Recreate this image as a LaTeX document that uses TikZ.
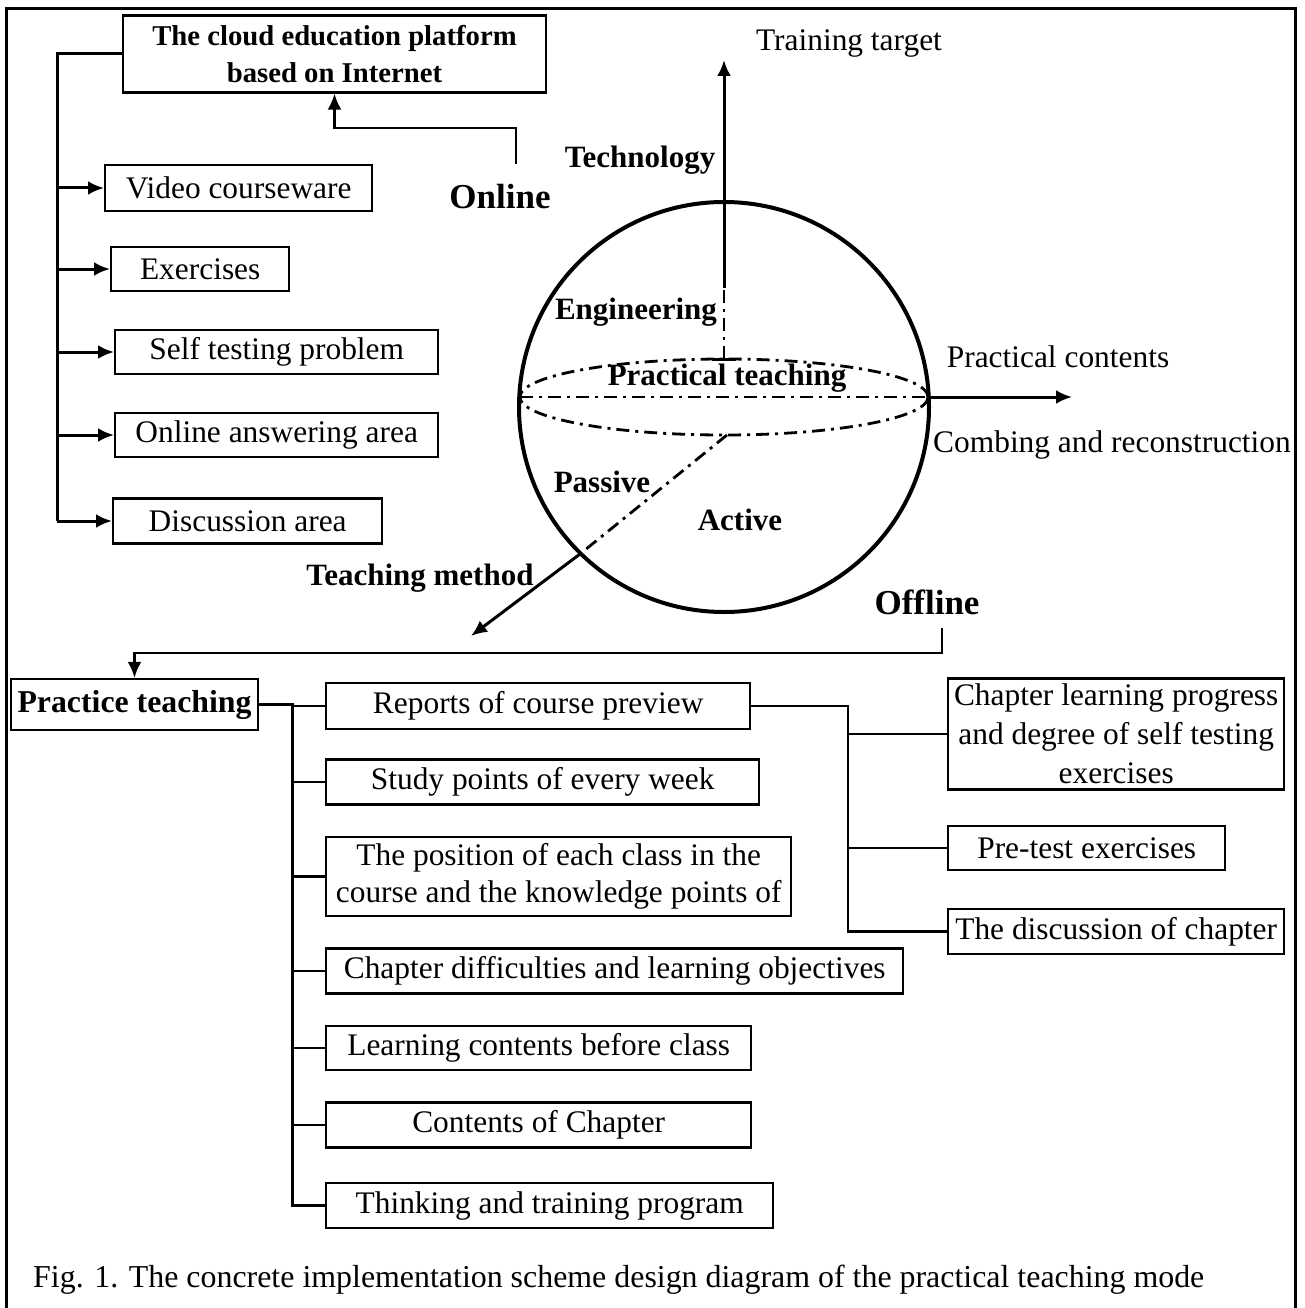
\documentclass[tikz,border=0pt]{standalone}
\usepackage{fontspec}
\setmainfont{Liberation Serif}
\usetikzlibrary{arrows.meta}

\newcommand\txtsz{\fontsize{31.4}{37}\selectfont}
\newcommand\lblsz{\fontsize{31}{37}\selectfont\bfseries}
\newcommand\bigsz{\fontsize{35}{40}\selectfont\bfseries}

\begin{document}
\begin{tikzpicture}[x=1pt, y=-1pt,
  >={Latex[length=16pt,width=14pt]},
  box/.style={draw, line width=2.4pt, inner sep=1pt, font=\txtsz, align=center},
  conn/.style={line width=3pt},
  thin/.style={line width=2.2pt},
  dashdot/.style={line width=2.8pt, dash pattern=on 13pt off 6pt on 3pt off 6pt}]
  \useasboundingbox (0,0) rectangle (1304,1308);
  % outer frame, open at the bottom
  \draw[line width=3pt] (6,1320) -- (6,9) -- (1295,9) -- (1295,1320);
  % online part
  \node[box, font=\fontsize{28.7}{37}\selectfont\bfseries, minimum width=423pt, minimum height=77pt]
    (cloud) at (334.5,54) {The cloud education platform\\based on Internet};
  \node[box, anchor=west, minimum width=267pt, minimum height=46pt] (video) at (104,188) {Video courseware};
  \node[box, anchor=west, minimum width=178pt, minimum height=44pt] (exer) at (110,269) {Exercises};
  \node[box, anchor=west, minimum width=323pt, minimum height=44pt] (selftest) at (114,352) {Self testing problem};
  \node[box, anchor=west, minimum width=323pt, minimum height=44pt] (answer) at (114,435) {Online answering area};
  \node[box, anchor=west, minimum width=269pt, minimum height=45pt] (discuss) at (112,521) {Discussion area};
  \coordinate (ltrunk) at (57,0);
  \draw[conn] (cloud.west) -| (ltrunk |- discuss.west);
  \foreach \n in {video,exer,selftest,answer,discuss}
    \draw[conn,->] (ltrunk |- \n.west) -- (\n.west);
  \node[font=\bigsz] (online) at (500,197) {Online};
  \coordinate (onlinetop) at (516,164);
  \draw[thin,->] (onlinetop) -- ++(0,-36) -| (cloud.south);
  % sphere with its three axes
  \draw[line width=4pt] (724,407) circle[radius=205];
  \draw[dashdot] (724,397) ellipse[x radius=204, y radius=38];
  \coordinate (eqL) at (520,397);
  \coordinate (eqR) at (928,397);
  \coordinate (eqtip) at (1072,397);
  \draw[dashdot] (eqL) -- (eqR);
  \draw[conn,->] (eqR) -- (eqtip);
  \coordinate (poleb) at (724,359);
  \coordinate (polem) at (724,288);
  \coordinate (polet) at (724,60);
  \draw[conn] ([xshift=-12pt]poleb) -- ([xshift=12pt]poleb);
  \draw[dashdot] (poleb) -- (polem);
  \draw[conn,->] (polem) -- (polet);
  \coordinate (diagA) at (727,435);
  \coordinate (diagB) at (580,554);
  \coordinate (diagC) at (471,636);
  \draw[dashdot] (diagA) -- (diagB);
  \draw[conn,->] (diagB) -- (diagC);
  % axis and region labels
  \node[font=\txtsz] (target) at (849,43) {Training target};
  \node[font=\lblsz] (techno) at (640,160) {Technology};
  \node[font=\lblsz] (engin) at (636,312) {Engineering};
  \node[font=\lblsz] (practical) at (727,378) {Practical teaching};
  \node[font=\txtsz] (pcontents) at (1058,357) {Practical contents};
  \node[font=\txtsz] (combing) at (1112,445) {Combing and reconstruction};
  \node[font=\lblsz] (passive) at (602,482) {Passive};
  \node[font=\lblsz] (active) at (740,520) {Active};
  \node[font=\lblsz] (method) at (420,578) {Teaching method};
  \node[font=\bigsz] (offline) at (927,602) {Offline};
  % offline part
  \node[box, font=\fontsize{31.8}{37}\selectfont\bfseries, minimum width=247pt, minimum height=51pt]
    (practice) at (134.5,704.5) {Practice teaching};
  \coordinate (offbend) at (942,628);
  \draw[thin,->] (offbend) -- ++(0,25) -| (practice.north);
  \node[box, anchor=west, minimum width=424pt, minimum height=46pt] (reports) at (325,706) {Reports of course preview};
  \node[box, anchor=west, minimum width=433pt, minimum height=45pt] (study) at (325,782) {Study points of every week};
  \node[box, anchor=west, minimum width=465pt, minimum height=79pt] (position) at (325,876.5)
    {The position of each class in the\\course and the knowledge points of};
  \node[box, anchor=west, minimum width=577pt, minimum height=45pt] (difficult) at (325,971) {Chapter difficulties and learning objectives};
  \node[box, anchor=west, minimum width=425pt, minimum height=44pt] (before) at (325,1048) {Learning contents before class};
  \node[box, anchor=west, minimum width=425pt, minimum height=45pt] (contents) at (325,1125) {Contents of Chapter};
  \node[box, anchor=west, minimum width=447pt, minimum height=45pt] (thinking) at (325,1205.5) {Thinking and training program};
  \coordinate (ptrunk) at (292,0);
  \draw[conn] (practice.east) -| (ptrunk |- thinking.west) -- (thinking.west);
  \foreach \n in {reports,study,position,difficult,before,contents}
    \draw[thin] (ptrunk |- \n.west) -- (\n.west);
  % preview report details
  \node[box, anchor=west, minimum width=336pt, minimum height=111pt, font=\fontsize{31.4}{39}\selectfont]
    (progress) at (947,734) {Chapter learning progress\\and degree of self testing\\exercises};
  \node[box, anchor=west, minimum width=277pt, minimum height=44pt] (pretest) at (947,848) {Pre-test exercises};
  \node[box, anchor=west, minimum width=336pt, minimum height=45pt] (discchap) at (947,931.5) {The discussion of chapter};
  \coordinate (rtrunk) at (848,0);
  \draw[thin] (reports.east) -| (rtrunk |- discchap.west) -- (discchap.west);
  \foreach \n in {progress,pretest}
    \draw[thin] (rtrunk |- \n.west) -- (\n.west);
  % caption
  \node[font=\fontsize{31.9}{37}\selectfont, anchor=west, inner sep=0pt] (caption) at (33,1280)
    {Fig. 1. The concrete implementation scheme design diagram of the practical teaching mode};
\end{tikzpicture}
\end{document}
